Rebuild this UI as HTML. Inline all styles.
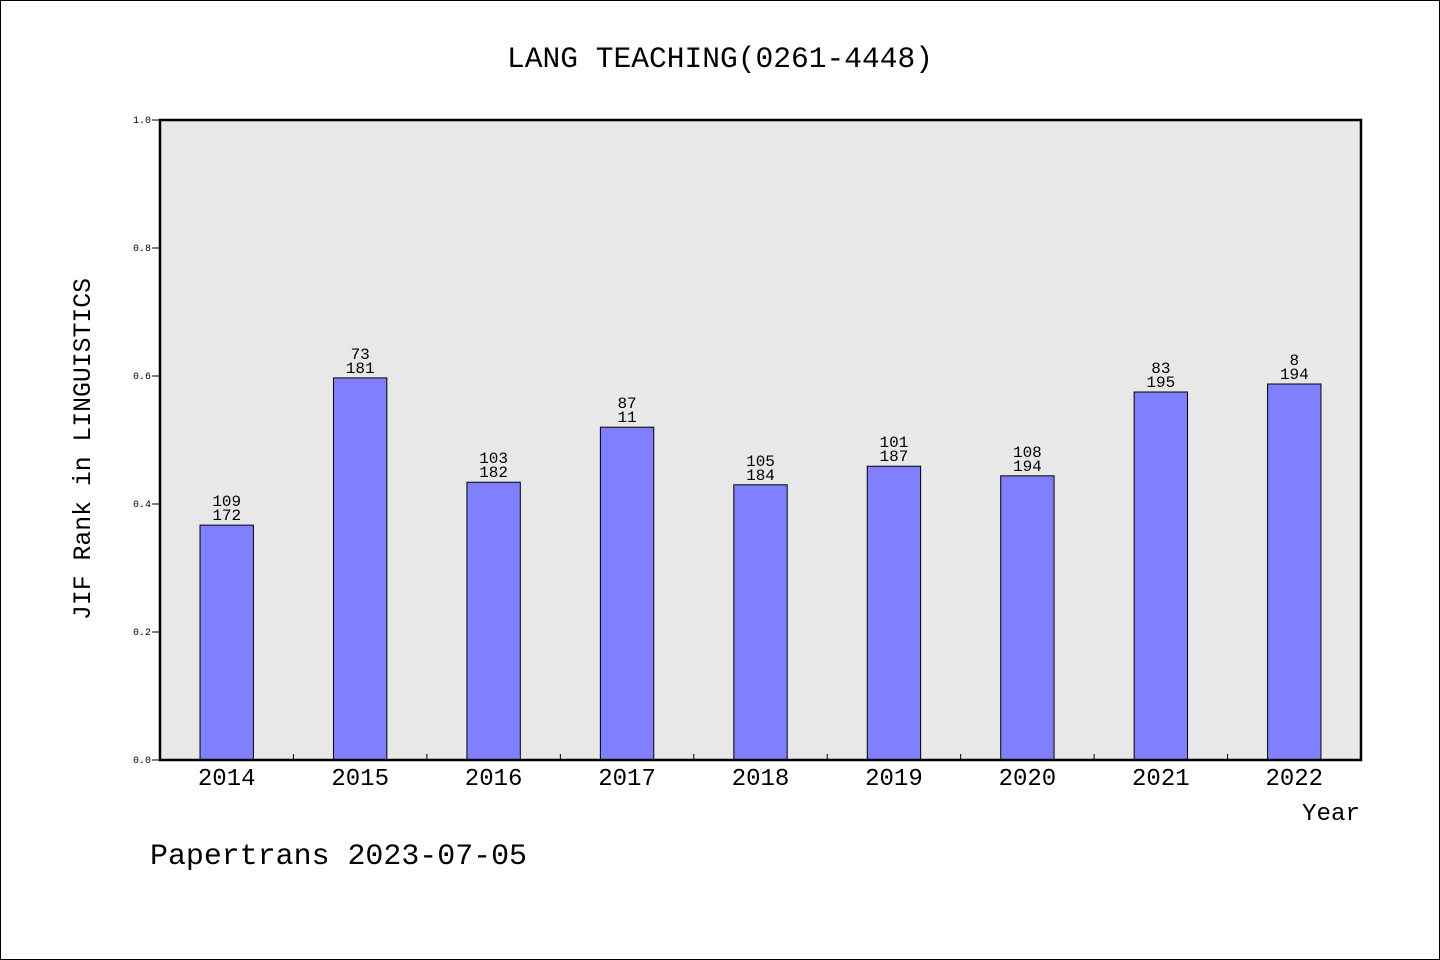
<!DOCTYPE html>
<html><head><meta charset="utf-8"><style>
html,body{margin:0;padding:0;background:#fff}
svg{display:block}
text{font-family:"Liberation Mono","WenQuanYi Zen Hei",monospace;fill:#000}
</style></head><body>
<svg id="chart" width="1440" height="960" viewBox="0 0 1440 960">
<rect x="0.5" y="0.5" width="1439" height="959" fill="#fff" stroke="#000"/>
<text x="720" y="67" font-size="30" text-anchor="middle" textLength="426" lengthAdjust="spacingAndGlyphs">LANG TEACHING(0261-4448)</text>
<rect x="160" y="120" width="1201" height="640" fill="#e8e8e8"/>
<g id="marks"></g>
<rect x="160" y="120" width="1201" height="640" fill="none" stroke="#000" stroke-width="2.5"/>
<text transform="translate(90,449) rotate(-90)" font-size="25" text-anchor="middle" textLength="342" lengthAdjust="spacingAndGlyphs">JIF Rank in LINGUISTICS</text>
<text x="1360" y="820" font-size="24" text-anchor="end" textLength="58" lengthAdjust="spacingAndGlyphs">Year</text>
<text x="150" y="864" font-size="30" textLength="377" lengthAdjust="spacingAndGlyphs">Papertrans 2023-07-05</text>
</svg>
<script>
const categories = ["2014","2015","2016","2017","2018","2019","2020","2021","2022"];
const values = [0.367,0.597,0.434,0.520,0.430,0.459,0.444,0.575,0.5875];
const topLabels = ["109","73","103","87","105","101","108","83","8"];
const bottomLabels = ["172","181","182","11","184","187","194","195","194"];
const yTicks = [0,0.2,0.4,0.6,0.8,1.0];
const yTickLabels = ["0.0","0.2","0.4","0.6","0.8","1.0"];

const NS="http://www.w3.org/2000/svg";
const g=document.getElementById('marks');
const svg=document.getElementById('chart');
const X0=160,W=1201,Y0=760,H=640;
const band=W/categories.length;
const xc=i=>X0+band*(i+0.5);
const y=v=>Y0-v*H;
function mk(tag,attrs,parent){const e=document.createElementNS(NS,tag);for(const k in attrs)e.setAttribute(k,attrs[k]);(parent||g).appendChild(e);return e;}
categories.forEach((c,i)=>{
  const bw=band*0.4;
  const r=mk('rect',{x:xc(i)-bw/2,y:y(values[i]),width:bw,height:Y0-y(values[i]),fill:'#8080ff',stroke:'#000','stroke-width':1});
  
  
  const t1=mk('text',{x:xc(i),y:y(values[i])-19,'font-size':16,'text-anchor':'middle'},svg);
  t1.textContent=topLabels[i];
  
  
  const t2=mk('text',{x:xc(i),y:y(values[i])-5,'font-size':16,'text-anchor':'middle'},svg);
  t2.textContent=bottomLabels[i];
  
  
  const xl=mk('text',{x:xc(i),y:785,'font-size':24,'text-anchor':'middle'},svg);
  xl.textContent=c;
  
  
  if(i>0){
    const tk=mk('line',{x1:X0+band*i,x2:X0+band*i,y1:Y0,y2:Y0-6,stroke:'#000','stroke-width':1},svg);
    
    
  }
});
yTicks.forEach((v,i)=>{
  const tk=mk('line',{x1:152,x2:160,y1:y(v),y2:y(v),stroke:'#000','stroke-width':1},svg);
  
  
  const tl=mk('text',{x:151,y:y(v)+3,'font-size':10,'text-anchor':'end'},svg);
  tl.textContent=yTickLabels[i];
  
  
});
</script>
</body></html>
